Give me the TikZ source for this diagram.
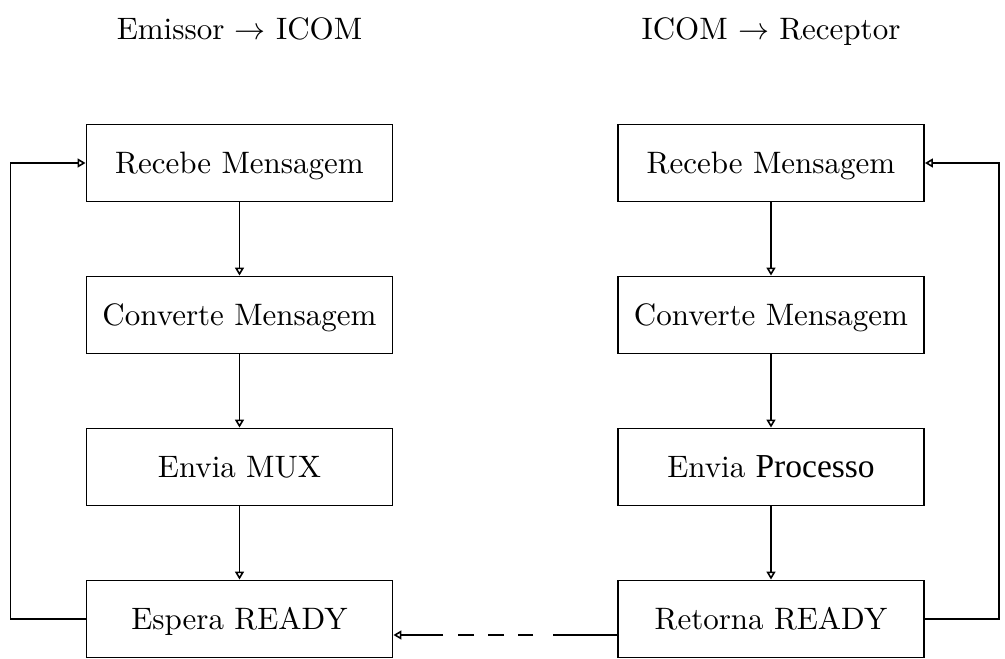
\documentclass[tikz,border=0pt]{standalone}
\usepackage{fontspec}
\setmainfont{lmroman10-regular.otf}
\newfontfamily\timesfont{Liberation Serif}
\usetikzlibrary{arrows.meta}
% arrow between the words of a heading, scaled up from the 10pt math arrow
\newcommand{\headarrow}{\scalebox{3.1}{\fontsize{10}{12}\selectfont$\rightarrow$}}
\begin{document}
\begin{tikzpicture}[x=1pt,y=-1pt,
  bigtext/.style={font=\fontsize{31}{36}\selectfont},
  procbox/.style={draw, line width=1.9pt, minimum width=306pt, minimum height=77pt,
    inner sep=0pt, text height=21pt, text depth=0pt, bigtext},
  heading/.style={anchor=base, bigtext},
  flow/.style={line width=1.6pt, -{Triangle[open, length=8pt, width=9pt]}}]
\useasboundingbox (0,0) rectangle (1005,659);

% column headings
\node[heading] (h1) at (239.5,39) {Emissor \headarrow{} ICOM};
\node[heading] (h2) at (771,39) {ICOM \headarrow{} Receptor};

% sender side
\node[procbox] (l1) at (239.5,163) {Recebe Mensagem};
\node[procbox] (l2) at (239.5,315) {Converte Mensagem};
\node[procbox] (l3) at (239.5,467) {Envia MUX};
\node[procbox] (l4) at (239.5,619) {Espera READY};

% receiver side
\node[procbox] (r1) at (771,163) {Recebe Mensagem};
\node[procbox] (r2) at (771,315) {Converte Mensagem};
\node[procbox] (r3) at (771,467) {Envia {\timesfont\fontsize{33.5}{38}\selectfont Processo}};
\node[procbox] (r4) at (771,619) {Retorna READY};

% main flow
\draw[flow] (l1) -- (l2);
\draw[flow] (l2) -- (l3);
\draw[flow] (l3) -- (l4);
\draw[flow] (r1) -- (r2);
\draw[flow] (r2) -- (r3);
\draw[flow] (r3) -- (r4);

% return loops
\draw[flow] (l4.west) -- ++(-75,0) |- (l1.west);
\draw[flow] (r4.east) -- ++(74,0) |- (r1.east);

% READY signal back to the sender
\draw[flow, dash pattern=on 64pt off 20pt on 15pt off 14pt on 16pt off 14pt on 16pt off 15pt on 200pt]
  ([yshift=-16pt]r4.west) -- ([yshift=-16pt]l4.east);
\end{tikzpicture}
\end{document}
